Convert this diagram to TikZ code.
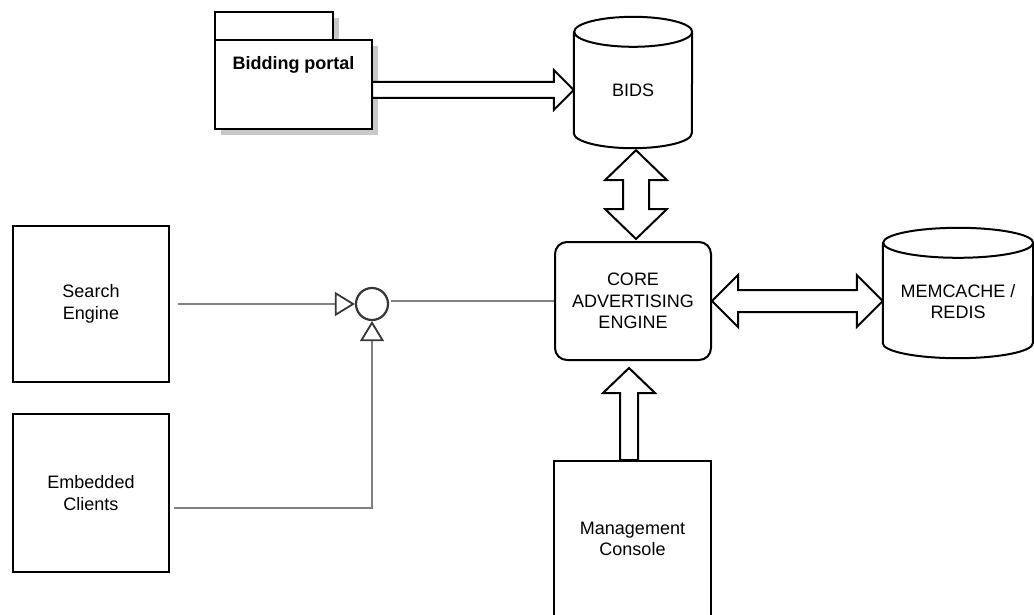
\documentclass[tikz,border=0pt]{standalone}
\usepackage{fontspec}
\setmainfont{Liberation Sans}
\usetikzlibrary{calc,arrows.meta}
\definecolor{lgray}{RGB}{128,128,128}
\definecolor{dgray}{RGB}{55,55,55}
\definecolor{shadowgray}{RGB}{200,200,200}
\begin{document}
\begin{tikzpicture}[x=1pt,y=-1pt,
  txtfont/.style={font=\fontsize{18}{21.5}\selectfont},
  box/.style={draw=black, line width=2pt, fill=white, minimum width=156pt,
    minimum height=156pt, align=center, inner sep=0pt, txtfont},
  store/.style={draw=none, inner sep=0pt},
  txt/.style={align=center, inner sep=0pt, txtfont},
  blk/.style={draw=black, line width=2pt, fill=white, line join=miter},
  gline/.style={draw=lgray, line width=1.8pt},
  otri/.style={-{Triangle[open,length=20pt,width=24pt,color=dgray]}}
]
\useasboundingbox (0,0) rectangle (1034,615);
\clip (0,0) rectangle (1034,615);

% Bidding portal (package shape with shadow)
\node[store, minimum width=118pt, minimum height=28pt] (tab) at (274,26) {};
\node[store, minimum width=157pt, minimum height=89pt] (portal) at (293.5,84.5) {};
\fill[shadowgray] ($(tab.north west)+(6,6)$) rectangle ($(tab.south east)+(6,6)$);
\fill[shadowgray] ($(portal.north west)+(6,6)$) rectangle ($(portal.south east)+(6,6)$);
\draw[line width=2pt, fill=white] (tab.north west) rectangle (tab.south east);
\draw[line width=2pt, fill=white] (portal.north west) rectangle (portal.south east);
\node[txt, font=\fontsize{18}{21.5}\selectfont\bfseries] (portaltext) at ($(portal.north)+(0,25)$) {Bidding portal};

% BIDS cylinder
\node[store, minimum width=118pt, minimum height=131pt] (bids) at (633,82.5) {};
\draw[line width=2pt, fill=white] ([yshift=-15pt]bids.north west) -- ([yshift=15pt]bids.south west)
  arc[start angle=180, end angle=360, x radius=59pt, y radius=15pt]
  -- ([yshift=-15pt]bids.north east)
  arc[start angle=0, end angle=360, x radius=59pt, y radius=15pt];
\node[txt] (bidstext) at ($(bids.center)+(0,7.5)$) {BIDS};

% MEMCACHE cylinder
\node[store, minimum width=150pt, minimum height=130pt] (memcache) at (958,293) {};
\draw[line width=2pt, fill=white] ([yshift=-15pt]memcache.north west) -- ([yshift=15pt]memcache.south west)
  arc[start angle=180, end angle=360, x radius=75pt, y radius=15pt]
  -- ([yshift=-15pt]memcache.north east)
  arc[start angle=0, end angle=360, x radius=75pt, y radius=15pt];
\node[txt] (memtext) at ($(memcache.center)+(0,8.5)$) {MEMCACHE /\\REDIS};

% Core
\node[box, rounded corners=12pt, minimum height=118pt] (core) at (633,301) {CORE\\ADVERTISING\\ENGINE};

% Left boxes
\node[box] (search) at (91,304) {Search\\Engine};
\node[box, minimum height=158pt] (embedded) at (91,493) {Embedded\\Clients};

% Management console
\node[box, minimum width=157pt] (mgmt) at (632.5,539) {Management\\Console};

% Junction circle
\node[draw=dgray, line width=2.2pt, circle, minimum size=32pt, inner sep=0pt] (junc) at (372,304) {};

% Gray connectors
\draw[gline, otri] ($(search.east)+(8,0)$) -- (junc.west);
\draw[gline] ($(junc.east |- core.west)+(2,0)$) -- (core.west);
\draw[gline, otri] ($(embedded.east)+(4,15)$) -| (junc.south);

% Block arrow portal -> bids
\coordinate (ps) at ($(portal.east)+(0,5.5)$);
\coordinate (pt) at ($(bids.west)+(0,7.5)$);
\draw[blk] ($(ps)+(0,-8)$) -- ($(pt)+(-20,-8)$) -- ($(pt)+(-20,-20)$) -- (pt)
  -- ($(pt)+(-20,20)$) -- ($(pt)+(-20,8)$) -- ($(ps)+(0,8)$) -- cycle;

% Double arrow bids <-> core
\coordinate (v1) at ($(bids.south)+(3,2)$);
\coordinate (v2) at ($(core.north)+(3,-2)$);
\draw[blk] (v1) -- ($(v1)+(31,30)$) -- ($(v1)+(13,30)$) -- ($(v2)+(13,-30)$) -- ($(v2)+(31,-30)$)
  -- (v2) -- ($(v2)+(-31,-30)$) -- ($(v2)+(-13,-30)$) -- ($(v1)+(-13,30)$) -- ($(v1)+(-31,30)$) -- cycle;

% Double arrow core <-> memcache
\coordinate (h1) at (core.east);
\coordinate (h2) at ($(memcache.west)+(0,8)$);
\draw[blk] (h1) -- ($(h1)+(26,-26)$) -- ($(h1)+(26,-11)$) -- ($(h2)+(-26,-11)$) -- ($(h2)+(-26,-26)$)
  -- (h2) -- ($(h2)+(-26,26)$) -- ($(h2)+(-26,11)$) -- ($(h1)+(26,11)$) -- ($(h1)+(26,26)$) -- cycle;

% Arrow mgmt -> core
\coordinate (m1) at ($(mgmt.north)+(-3.5,0)$);
\coordinate (m2) at ($(core.south)+(-4,7)$);
\draw[blk] ($(m1)+(-9,0)$) -- ($(m2)+(-9,25)$) -- ($(m2)+(-26,25)$) -- (m2)
  -- ($(m2)+(26,25)$) -- ($(m2)+(9,25)$) -- ($(m1)+(9,0)$) -- cycle;
\end{tikzpicture}
\end{document}
